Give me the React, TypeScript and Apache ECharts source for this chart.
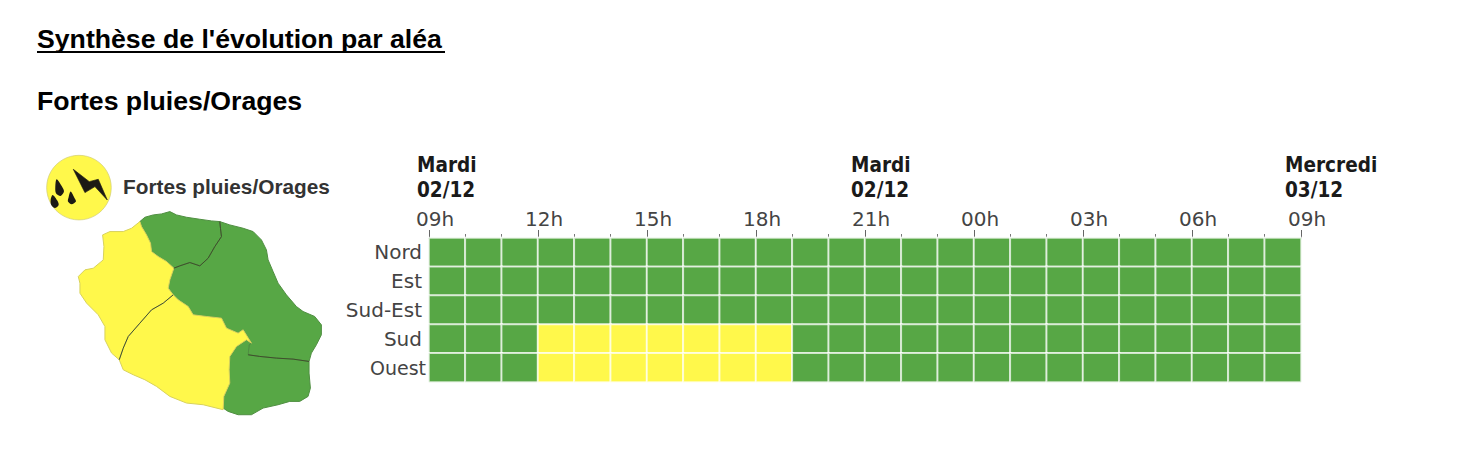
import React, { useEffect, useRef } from "react";
import * as echarts from "echarts";

const hourCols = ["09","10","11","12","13","14","15","16","17","18","19","20","21","22","23","00","01","02","03","04","05","06","07","08"];
const hourLabels = ["09h","12h","15h","18h","21h","00h","03h","06h","09h"];
const zones = ["Nord","Est","Sud-Est","Sud","Ouest"];
const nord = [0,0,0,0,0,0,0,0,0,0,0,0,0,0,0,0,0,0,0,0,0,0,0,0];
const est = [0,0,0,0,0,0,0,0,0,0,0,0,0,0,0,0,0,0,0,0,0,0,0,0];
const sudEst = [0,0,0,0,0,0,0,0,0,0,0,0,0,0,0,0,0,0,0,0,0,0,0,0];
const sud = [0,0,0,1,1,1,1,1,1,1,0,0,0,0,0,0,0,0,0,0,0,0,0,0];
const ouest = [0,0,0,1,1,1,1,1,1,1,0,0,0,0,0,0,0,0,0,0,0,0,0,0];
const rows = [nord, est, sudEst, sud, ouest];
const palette = ["#57a745", "#fff84b"];
const coastPalette = ["#4f8f41", "#d8d25c"];

const dayLabels = [
  { text: "Mardi\n02/12", x: 417 },
  { text: "Mardi\n02/12", x: 851 },
  { text: "Mercredi\n03/12", x: 1285 },
];

const nordShape = [[330,245],[345,232],[370,225],[395,222],[420,215],[440,225],[470,232],[510,238],[545,243],[570,245],[572,265],[575,290],[555,320],[535,355],[510,378],[480,368],[450,378],[432,385],[410,365],[385,350],[365,335],[362,310],[350,285],[335,260]];
const estShape = [[570,245],[600,255],[640,265],[670,275],[695,300],[710,330],[715,360],[730,395],[745,430],[770,465],[800,500],[820,515],[855,530],[875,555],[875,585],[860,615],[845,640],[838,665],[790,658],[740,655],[690,650],[655,645],[658,615],[665,610],[640,570],[625,580],[590,565],[575,535],[530,530],[490,525],[475,500],[445,480],[430,465],[415,445],[420,420],[432,385],[450,378],[480,368],[510,378],[535,355],[555,320],[575,290],[572,265]];
const sudEstShape = [[655,645],[690,650],[740,655],[790,658],[838,665],[838,700],[842,745],[835,770],[810,785],[780,785],[745,795],[700,805],[665,825],[625,825],[595,815],[580,805],[582,770],[600,730],[598,690],[600,650],[620,620],[650,600],[665,610],[658,615]];
const sudShape = [[430,465],[400,490],[365,510],[330,550],[295,590],[280,625],[268,660],[280,690],[310,705],[345,720],[380,740],[420,770],[470,790],[520,795],[580,810],[582,770],[600,730],[598,690],[600,650],[620,620],[650,600],[665,610],[640,570],[625,580],[590,565],[575,535],[530,530],[490,525],[475,500],[445,480]];
const ouestShape = [[330,245],[335,260],[350,285],[362,310],[365,335],[385,350],[410,365],[432,385],[420,420],[415,445],[430,465],[400,490],[365,510],[330,550],[295,590],[280,625],[268,660],[245,640],[225,600],[225,560],[205,525],[170,490],[150,460],[150,430],[145,410],[165,390],[190,385],[220,360],[222,320],[218,285],[240,275],[280,275],[305,265]];
const nordEstBorder = [[570,245],[572,265],[575,290],[555,320],[535,355],[510,378],[480,368],[450,378],[432,385]];
const ouestSudBorder = [[430,465],[400,490],[365,510],[330,550],[295,590],[280,625],[268,660]];
const estSudEstBorder = [[655,645],[690,650],[740,655],[790,658],[838,665]];
const bolt = [[130,88],[178,125],[205,118],[232,180],[195,140],[165,158]];
const dropA = [[80,118],[96,140],[102,155],[92,168],[78,160],[76,140]];
const dropB = [[122,155],[134,175],[138,185],[125,193],[114,185],[116,172]];
const dropC = [[68,165],[82,182],[86,195],[75,204],[64,195],[62,180]];

const mapStatus = [
  { points: nordShape, level: 0 },
  { points: estShape, level: 0 },
  { points: sudEstShape, level: 0 },
  { points: sudShape, level: 1 },
  { points: ouestShape, level: 1 },
];

export default function App() {
  const ref = useRef<HTMLDivElement>(null);
  useEffect(() => {
    const chart = echarts.init(ref.current!, null, { renderer: "svg" });
    const cells: number[][] = [];
    rows.forEach((row, y) => row.forEach((v, x) => cells.push([x, y, v])));
    const dark = "#1c1a14";
    chart.setOption({
      animation: false,
      backgroundColor: "#fff",
      grid: { left: 429, top: 238, width: 872, height: 144 },
      visualMap: {
        show: false, type: "piecewise", dimension: 2, seriesIndex: 0,
        pieces: [
          { value: 0, color: palette[0] },
          { value: 1, color: palette[1] },
        ],
      },
      xAxis: [
        { type: "category", data: hourCols, show: false },
        {
          type: "value", min: 0, max: 24, interval: 3, position: "top",
          splitLine: { show: false },
          axisLine: { show: true, lineStyle: { color: "#8a8f88", width: 1 } },
          axisTick: { show: true, length: 8, lineStyle: { color: "#666", width: 1 } },
          minorTick: { show: true, splitNumber: 3, length: 4, lineStyle: { color: "#777", width: 1 } },
          minorSplitLine: { show: false },
          axisLabel: {
            show: true, margin: 9, color: "#444", fontSize: 20, fontFamily: "DejaVu Sans",
            showMinLabel: true, showMaxLabel: true, padding: [0, 0, 0, 12],
            hideOverlap: false,
            formatter: (v: number) => hourLabels[v / 3],
          },
        },
      ],
      yAxis: {
        type: "category", data: zones, inverse: true,
        axisLine: { show: false }, axisTick: { show: false }, splitLine: { show: false },
        axisLabel: {
          margin: 3, color: "#444", fontSize: 20, fontFamily: "DejaVu Sans", interval: 0,
          formatter: (v: string) => (v === "Ouest" ? `{o|${v}}` : `{a|${v}}`),
          rich: {
            a: { color: "#444", fontSize: 20, fontFamily: "DejaVu Sans", padding: [0, 4, 0, 0] },
            o: { color: "#444", fontSize: 19, fontFamily: "DejaVu Sans" },
          },
        },
      },
      series: [{
        type: "heatmap", data: cells, xAxisIndex: 0, yAxisIndex: 0,
        itemStyle: { borderColor: "rgba(255,255,255,0.72)", borderWidth: 2 },
        emphasis: { disabled: true },
      }],
      graphic: [
        { type: "text", x: 37, y: 39, style: { text: "Synthèse de l'évolution par aléa", fill: "#000", font: "bold 26.67px 'Liberation Sans'", textVerticalAlign: "middle" } },
        { type: "line", shape: { x1: 37, y1: 52, x2: 445, y2: 52 }, style: { stroke: "#000", lineWidth: 2 } },
        { type: "text", x: 37, y: 101, style: { text: "Fortes pluies/Orages", fill: "#000", font: "bold 26.67px 'Liberation Sans'", textVerticalAlign: "middle" } },
        { type: "text", x: 123, y: 186, style: { text: "Fortes pluies/Orages", fill: "#333", font: "bold 20.8px 'Liberation Sans'", textVerticalAlign: "middle" } },
        ...dayLabels.map((d) => ({
          type: "text", x: d.x, y: 152.5, scaleY: 1.1,
          style: { text: d.text, fill: "#1a1a1a", font: "bold 18.5px 'DejaVu Sans'", lineHeight: 22.7 },
        })),
        {
          type: "group", x: 30, y: 140, scaleX: 1 / 3, scaleY: 1 / 3,
          children: [
            { type: "circle", shape: { cx: 147, cy: 143, r: 97 }, style: { fill: palette[1], stroke: "#cfca72", lineWidth: 2 } },
            { type: "polygon", shape: { points: bolt }, style: { fill: dark, stroke: dark, lineWidth: 2 } },
            { type: "polygon", shape: { points: dropA, smooth: 0.3 }, style: { fill: dark } },
            { type: "polygon", shape: { points: dropB, smooth: 0.3 }, style: { fill: dark } },
            { type: "polygon", shape: { points: dropC, smooth: 0.3 }, style: { fill: dark } },
            ...mapStatus.map((r) => ({
              type: "polygon",
              shape: { points: r.points },
              style: { fill: palette[r.level], stroke: coastPalette[r.level], lineWidth: 3, lineJoin: "round" },
            })),
            ...[nordEstBorder, ouestSudBorder, estSudEstBorder].map((points) => ({
              type: "polyline",
              shape: { points },
              style: { fill: "none", stroke: "#3f4f2c", lineWidth: 3, lineJoin: "round" },
            })),
          ],
        },
      ],
    });
    return () => chart.dispose();
  }, []);
  return <div ref={ref} style={{ position: "fixed", left: 0, top: 0, width: 1458, height: 454 }} />;
}
